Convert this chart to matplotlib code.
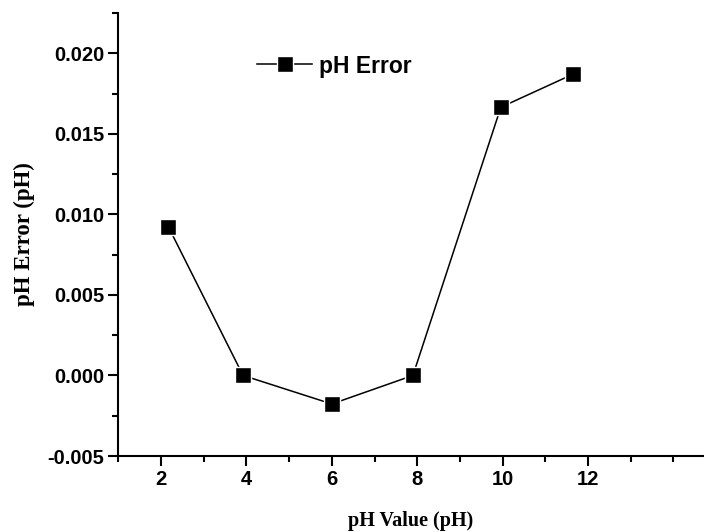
import matplotlib
matplotlib.use("Agg")
import matplotlib.pyplot as plt
from matplotlib.ticker import MultipleLocator, FormatStrFormatter

# data
ph_value = [2.17, 3.92, 6.0, 7.9, 9.96, 11.65]
ph_error = [0.00923, 0.0, -0.00177, 0.0, 0.01665, 0.0187]

fig = plt.figure(figsize=(7.04, 5.32), dpi=100)
ax = fig.add_axes([118 / 704, 76 / 532, 586 / 704, 443 / 532])

ax.plot(ph_value, ph_error, color="black", linewidth=1.1,
        marker="s", markersize=12, markerfacecolor="black",
        markeredgecolor="white", markeredgewidth=1.0, label="pH Error")

ax.set_xlim(0.99, 14.72)
ax.set_ylim(-0.005, 0.0225)

ax.spines["top"].set_visible(False)
ax.spines["right"].set_visible(False)
for s in ("left", "bottom"):
    ax.spines[s].set_linewidth(1.5)

ax.xaxis.set_major_locator(MultipleLocator(2))
ax.xaxis.set_minor_locator(MultipleLocator(1))
ax.yaxis.set_major_locator(MultipleLocator(0.005))
ax.yaxis.set_minor_locator(MultipleLocator(0.0025))
ax.yaxis.set_major_formatter(FormatStrFormatter("%.3f"))
ax.set_xticks([2, 4, 6, 8, 10, 12])

ax.tick_params(which="major", direction="out", length=7, width=1.5,
               labelsize=14.5, pad=3)
ax.tick_params(which="minor", direction="out", length=4, width=1.5)
for lab in ax.get_xticklabels() + ax.get_yticklabels():
    lab.set_fontfamily("Liberation Sans")
    lab.set_fontweight("bold")

ax.set_xlabel("pH Value (pH)", family="Liberation Serif", fontweight="bold",
              fontsize=14.5, labelpad=16)
ax.set_ylabel("pH Error (pH)", family="Liberation Serif", fontweight="bold",
              fontsize=16.5, labelpad=9)

leg = ax.legend(loc="center left", bbox_to_anchor=(257 / 704, 1 - 66 / 532),
                bbox_transform=fig.transFigure, frameon=False, borderpad=0,
                borderaxespad=0, handlelength=2.4, handletextpad=0.3,
                prop={"family": "Liberation Sans", "weight": "bold", "size": 16.5})

fig.savefig("out.png", dpi=100)
